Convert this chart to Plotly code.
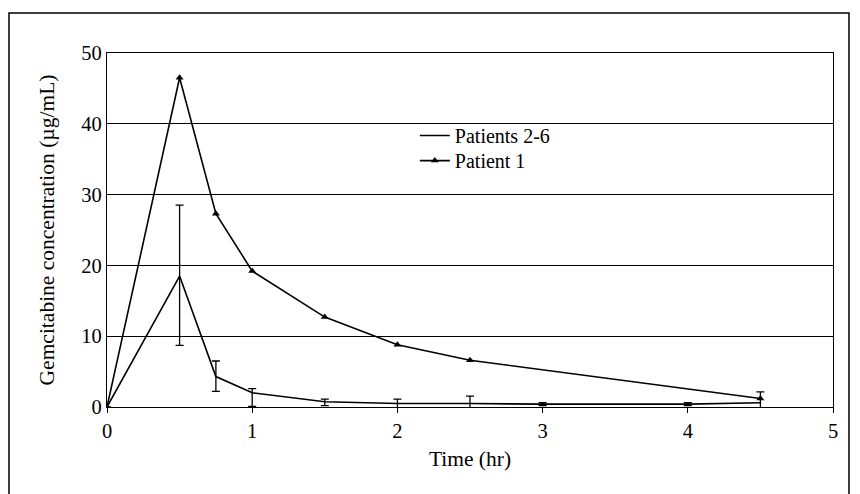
import plotly.graph_objects as go

# Data
time_pts_26 = [0, 0.5, 0.75, 1, 1.5, 2, 2.5, 3, 4, 4.5]
conc_pts_26 = [0, 18.5, 4.3, 2.0, 0.75, 0.5, 0.5, 0.4, 0.4, 0.6]
err_up_26 = [0, 10.0, 2.2, 0.6, 0.35, 0.6, 1.05, 0.2, 0.2, 1.55]
err_dn_26 = [0, 9.8, 2.1, 1.9, 0.55, 0.8, 0.8, 0.2, 0.2, 1.3]

time_p1 = [0, 0.5, 0.75, 1, 1.5, 2, 2.5, 4.5]
conc_p1 = [0, 46.5, 27.3, 19.2, 12.7, 8.8, 6.6, 1.2]

x_ticks = [0, 1, 2, 3, 4, 5]
y_ticks = [0, 10, 20, 30, 40, 50]

FONT = "Liberation Serif"

fig = go.Figure()
fig.add_trace(go.Scatter(
    x=time_pts_26, y=conc_pts_26, mode="lines", name="Patients 2-6",
    line=dict(color="black", width=1.6), legend="legend",
    error_y=dict(type="data", symmetric=False, array=err_up_26, arrayminus=err_dn_26,
                 color="black", thickness=1.3, width=4),
))
fig.add_trace(go.Scatter(
    x=time_p1, y=conc_p1, mode="lines+markers", name="Patient 1",
    line=dict(color="black", width=1.6), legend="legend2",
    marker=dict(symbol="triangle-up", size=7, color="black"),
))

leg_common = dict(xanchor="left", yanchor="middle", bgcolor="rgba(0,0,0,0)",
                  font=dict(family=FONT, size=20), itemwidth=30)

fig.update_layout(
    width=860, height=494,
    margin=dict(l=99, r=35, t=45, b=95),
    paper_bgcolor="white", plot_bgcolor="white",
    font=dict(family=FONT, size=20.5, color="black"),
    showlegend=True,
    legend=dict(x=0.424, y=0.767, **leg_common),
    legend2=dict(x=0.424, y=0.696, **leg_common),
    xaxis=dict(range=[0, 5], tickvals=x_ticks, showgrid=False, zeroline=False,
               showline=True, linecolor="black", linewidth=1.3, mirror=True,
               ticks="outside", ticklen=5, tickcolor="black",
               title=dict(text="Time (hr)", font=dict(family=FONT, size=21.5), standoff=10)),
    yaxis=dict(range=[0, 50], tickvals=y_ticks, showgrid=True, gridcolor="black",
               gridwidth=1.2, zeroline=False,
               showline=True, linecolor="black", linewidth=1.3, mirror=True,
               ticks="", ticklen=0,
               title=dict(text="Gemcitabine concentration (µg/mL)",
                          font=dict(family=FONT, size=21.5), standoff=20)),
    shapes=[dict(type="path", xref="paper", yref="paper",
                 path="M -0.135,-0.3 L -0.135,1.113 L 1.022,1.113 L 1.022,-0.3",
                 line=dict(color="black", width=1.5))],
)

fig.write_html("out.html")
